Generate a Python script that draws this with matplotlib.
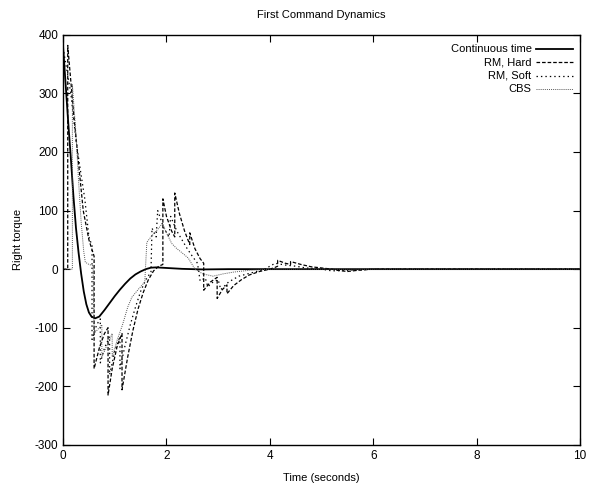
import matplotlib
matplotlib.use("Agg")
import matplotlib.pyplot as plt
from matplotlib.lines import Line2D

plt.rcParams["font.family"] = ["Liberation Sans", "DejaVu Sans"]
plt.rcParams["lines.scale_dashes"] = False
plt.rcParams["axes.unicode_minus"] = False

TITLE = "First Command Dynamics"
XLABEL = "Time (seconds)"
YLABEL = "Right torque"
LABELS = ["Continuous time", "RM, Hard", "RM, Soft", "CBS"]

# continuous-time controller output
t_cont = [0, 0.05, 0.1, 0.15, 0.2, 0.25, 0.3, 0.35, 0.4, 0.45, 0.5, 0.55, 0.62,
          0.7, 0.8, 0.9, 1.0, 1.1, 1.2, 1.3, 1.4, 1.5, 1.6, 1.7, 1.8, 2.0, 2.3,
          2.7, 3.2, 10]
v_cont = [380, 315, 250, 190, 125, 70, 28, -8, -38, -60, -74, -81, -84,
          -81, -70, -58, -46, -35, -25, -16, -9, -4, 0, 2.5, 3, 2, 0.5,
          -0.5, 0, 0]

# RM, hard reservations
t_hard = [0, 0.09, 0.09, 0.2, 0.3, 0.39, 0.5, 0.6, 0.6, 0.7, 0.8, 0.87, 0.87,
          0.95, 1.05, 1.14, 1.14, 1.25, 1.35, 1.45, 1.55, 1.65, 1.75, 1.85,
          1.93, 1.93, 2.0, 2.1, 2.16, 2.16, 2.25, 2.35, 2.45, 2.45, 2.55, 2.65,
          2.72, 2.72, 2.85, 2.98, 2.98, 3.08, 3.17, 3.17, 3.3, 3.45, 3.6, 3.8,
          4.0, 4.1, 4.15, 4.15, 4.3, 4.4, 4.4, 4.6, 4.8, 5.0, 5.2, 5.3, 5.5,
          5.7, 6.0, 10]
v_hard = [0, 0, 382, 270, 180, 100, 50, 22, -170, -135, -110, -100, -215,
          -170, -130, -110, -206, -150, -105, -68, -40, -18, -3, 5,
          8, 120, 90, 65, 55, 130, 95, 65, 42, 62, 35, 18,
          10, -36, -22, -14, -50, -35, -27, -42, -28, -18, -10, -4,
          0, 3, 5, 15, 10, 8, 13, 8, 4, 2, 0, -2, -4,
          -2, 0, 0]

# RM, soft reservations
t_soft = [0, 0.15, 0.25, 0.35, 0.42, 0.5, 0.56, 0.56, 0.65, 0.72,
          0.72, 0.8, 0.9, 0.9, 1.0, 1.1, 1.1, 1.2, 1.3, 1.4, 1.5, 1.6, 1.7,
          1.72, 1.8, 1.83, 1.95, 2.05, 2.08, 2.2, 2.3, 2.4, 2.5, 2.6, 2.65,
          2.75, 2.8, 2.9, 3.0, 3.05, 3.2, 3.4, 3.7, 3.9, 4.0, 4.1, 4.3, 4.5,
          4.7, 5.0, 5.2, 5.5, 6, 10]
v_soft = [378, 300, 220, 160, 120, 55, 40, -120, -95, -85,
          -160, -135, -115, -180, -140, -115, -170, -130, -95, -65, -38, -18, -5,
          70, 55, 100, 70, 55, 90, 65, 50, 35, 22, 10, -20,
          -15, -30, -22, -18, -35, -22, -12, -5, 0, 5, 10, 7, 5,
          2, 0, -3, -2, 0, 0]

# CBS
t_cbs = [0, 0.18, 0.18, 0.25, 0.3, 0.35, 0.4, 0.43, 0.5, 0.58, 0.6, 0.7, 0.75,
         0.75, 0.85, 0.95, 0.95, 1.05, 1.15, 1.2, 1.25, 1.33, 1.45, 1.58, 1.62,
         1.7, 1.78, 1.85, 1.92, 2.0, 2.1, 2.2, 2.3, 2.42, 2.55, 2.7, 2.9, 3.1,
         3.3, 3.6, 4.0, 10]
v_cbs = [0, 0, 315, 230, 150, 80, 30, 12, 8, 6, -110, -100, -95,
         -150, -130, -110, -150, -120, -95, -80, -65, -48, -35, -22, 46,
         55, 63, 70, 78, 62, 44, 35, 28, 19, 0, -8, -12, -8,
         -5, -2, 0, 0]

fig = plt.figure(figsize=(5.95, 4.91), dpi=100)
ax = fig.add_axes([0.106, 0.094, 0.869, 0.835])

styles = [
    dict(color="black", lw=1.3, ls="-"),
    dict(color="black", lw=0.9, dashes=(2.6, 1.4)),
    dict(color="black", lw=0.9, dashes=(1.0, 2.2)),
    dict(color="#555555", lw=0.7, dashes=(0.7, 0.8)),
]
series = [(t_cont, v_cont), (t_hard, v_hard), (t_soft, v_soft), (t_cbs, v_cbs)]
for (t, v), st in zip(series, styles):
    ax.plot(t, v, **st)

ax.set_xlim(0, 10)
ax.set_ylim(-300, 400)
ax.set_xticks(range(0, 11, 2))
ax.set_yticks(range(-300, 401, 100))
ax.tick_params(direction="in", top=True, right=True, labelsize=8.5, length=5, width=0.8)
for s in ax.spines.values():
    s.set_linewidth(1.0)

ax.set_title(TITLE, fontsize=8, pad=12)
ax.set_xlabel(XLABEL, fontsize=8, labelpad=8)
ax.set_ylabel(YLABEL, fontsize=8, labelpad=8)

# gnuplot-style key: right-aligned text, sample line after it
for i, (lab, st) in enumerate(zip(LABELS, styles)):
    y = 0.966 - i * 0.033
    ax.text(0.906, y, lab, transform=ax.transAxes, ha="right", va="center", fontsize=8)
    ax.add_line(Line2D([0.914, 0.986], [y, y], transform=ax.transAxes, **st))

fig.savefig("out.png", dpi=100)
